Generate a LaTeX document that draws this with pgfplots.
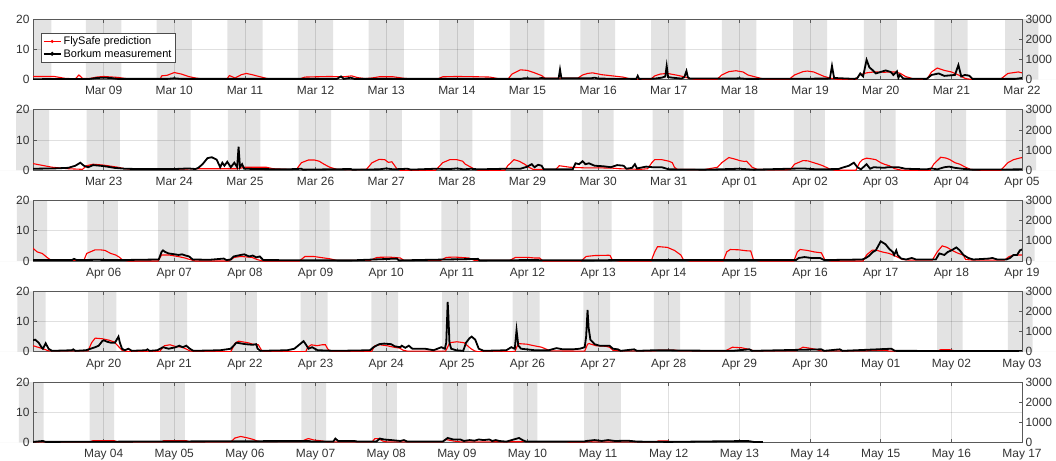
\documentclass[border=0pt]{standalone}
\usepackage{fontspec}
\setmainfont{Liberation Sans}
\usepackage{pgfplots}
\usepackage{pgfplotstable}
\pgfplotsset{compat=1.18}

\definecolor{bandgray}{gray}{0.89}
\definecolor{axgray}{gray}{0.35}
\definecolor{lblgray}{gray}{0.2}

% FlySafe prediction (x = days since Mar 08 00:00, y on left scale)
\pgfplotstableread{
x y
0 1.0
0.3 1.0
0.45 0.4
0.6 0.2
0.65 1.5
0.7 0.4
0.8 0.3
0.9 0.8
1.0 1.0
1.2 0.7
1.35 0.2
1.45 0
1.8 0
1.82 1.2
1.9 1.4
2.0 2.3
2.1 1.8
2.2 1.0
2.3 0.5
2.45 0
2.74 0
2.78 1.3
2.86 0.5
2.95 1.6
3.02 2.0
3.1 1.6
3.2 1.0
3.3 0.4
3.4 0
3.75 0
3.85 0.8
4.0 0.9
4.2 1.0
4.4 0.9
4.51 1.2
4.6 0.6
4.7 0.3
4.8 0.5
4.9 0.9
5.1 0.9
5.25 0.4
5.4 0.1
5.72 0.1
5.8 0.9
6.0 1.0
6.3 0.9
6.47 0.8
6.6 0.2
6.72 0
6.78 1.8
6.9 3.2
7.0 3.0
7.1 2.2
7.2 1.3
7.25 0.4
7.5 0.4
7.71 0.4
7.78 1.5
7.85 2.0
7.92 2.2
8.05 1.6
8.2 1.2
8.35 0.8
8.42 0.4
8.5 0
8.74 0
8.8 1.2
8.88 1.8
8.98 2.0
9.1 1.5
9.2 1.0
9.3 0.3
9.4 0
9.68 0
9.75 1.5
9.85 2.6
9.95 2.9
10.05 2.5
10.12 1.5
10.2 1.0
10.3 0.4
10.4 0
10.7 0
10.78 1.5
10.9 2.6
10.96 2.8
11.05 2.5
11.12 1.8
11.2 1.0
11.3 0.4
11.4 0
11.65 0
11.7 1.5
11.8 2.2
11.91 2.5
12.05 2.4
12.2 2.5
12.28 2.0
12.35 1.0
12.45 0.3
12.55 0
12.65 0
12.72 2.5
12.8 3.8
12.9 3.0
13.0 2.5
13.1 1.5
13.2 0.3
13.3 0
13.69 0
13.8 2.0
13.95 2.5
14.0 2.2
14.27 1.0
14.5 0.5
14.7 0.3
14.76 1.5
14.85 2.0
15.0 1.7
15.2 1.0
15.3 0.5
15.4 0.3
16.0 0.3
16.3 0.5
16.9 0.5
17.0 1.0
17.3 1.0
17.4 0.5
17.6 0.3
17.73 0.3
17.8 2.5
17.9 3.4
17.98 3.4
18.05 3.0
18.12 2.0
18.2 1.0
18.3 0.3
18.6 0.2
18.72 0.3
18.8 2.5
18.9 3.6
18.98 3.5
19.03 2.6
19.08 2.8
19.12 1.5
19.15 0.5
19.2 0
19.7 0
19.74 1.0
19.8 2.5
19.9 3.5
20.0 3.5
20.08 3.0
20.12 2.0
20.16 1.5
20.24 0.5
20.3 0
20.68 0
20.72 1.5
20.81 3.5
20.88 3.0
20.96 2.0
21.02 1.0
21.08 0.3
21.4 0.3
21.45 1.5
21.6 1.0
21.8 0.8
22.0 0.8
22.2 0.7
22.3 0.5
22.6 0.3
22.7 0.5
22.76 2.5
22.8 3.5
22.9 3.5
23.0 3.0
23.05 2.5
23.08 1.0
23.12 0.3
23.5 0.2
23.69 1.0
23.75 2.5
23.85 4.2
23.95 3.6
24.0 3.2
24.07 2.9
24.1 3.0
24.14 2.0
24.18 1.0
24.25 0.3
24.5 0.1
24.72 0.2
24.78 2.0
24.9 3.2
24.97 3.1
25.05 2.5
25.12 2.0
25.18 1.5
25.27 0.5
25.35 0
25.65 0
25.7 2.5
25.74 3.5
25.8 4.0
25.86 3.8
25.93 3.5
26.0 2.5
26.05 2.0
26.12 1.5
26.2 0.5
26.3 0
26.7 0
26.75 2.0
26.85 4.3
26.93 4.0
26.98 3.5
27.05 2.5
27.12 2.0
27.2 1.0
27.27 0.3
27.4 0
27.7 0
27.8 2.5
27.88 3.5
27.96 4.0
28.0 4.2
28.06 3.0
28.13 2.5
28.21 1.0
28.26 0.2
28.72 0.2
28.76 2.5
28.88 3.7
28.95 3.7
29.02 3.5
29.1 2.5
29.17 2.0
29.22 1.3
29.27 0.3
29.35 0
29.77 0
29.82 2.0
29.92 2.0
30.05 1.5
30.15 1.0
30.22 0.5
30.3 0
30.77 0
30.85 1.2
30.94 1.5
31.1 1.2
31.17 0.5
31.25 0
31.77 0
31.85 1.5
31.97 1.5
32.12 1.0
32.21 0.7
32.3 0.2
32.77 0.2
32.87 1.2
33.04 1.3
33.2 1.0
33.25 0.2
33.77 0.2
33.85 1.2
33.97 1.3
34.17 1.0
34.25 0.2
34.75 0.2
34.83 1.2
35.0 1.2
35.1 1.0
35.17 1.0
35.22 0
35.76 0
35.83 1.5
35.95 1.8
36.15 1.9
36.17 1.8
36.2 0.3
36.3 0
36.75 0
36.8 3.0
36.84 4.7
36.88 4.7
36.98 4.5
37.08 3.5
37.14 2.5
37.17 2.0
37.21 0.3
37.3 0
37.77 0
37.82 3.0
37.87 3.8
37.99 3.7
38.09 3.4
38.16 3.3
38.2 0.3
38.3 0
38.77 0
38.82 3.0
38.86 3.8
38.96 3.5
39.06 3.0
39.16 2.7
39.21 0.3
39.3 0
39.75 0
39.8 2.0
39.88 3.6
39.95 3.5
40.02 3.0
40.12 2.5
40.17 2.0
40.22 1.5
40.31 0.5
40.4 0.3
40.73 0.3
40.8 3.0
40.87 5.0
40.94 4.5
41.01 3.5
41.1 2.5
41.17 2.0
41.2 0.5
41.3 0.3
41.75 0.3
41.82 1.5
41.9 2.0
42.0 2.0
42.07 1.5
42.14 1.0
42.22 0.3
42.78 0.3
42.83 3.0
42.88 4.5
42.98 4.3
43.08 3.8
43.15 3.2
43.2 2.0
43.26 0.5
43.35 0
43.79 0
43.86 2.0
43.94 2.3
44.01 1.8
44.11 1.5
44.16 1.0
44.22 0.3
44.3 0
44.8 0
44.86 2.8
44.91 3.5
45.04 3.0
45.11 2.5
45.19 2.3
45.24 0.3
45.3 0
45.86 0
45.89 1.5
45.94 2.3
46.02 2.0
46.09 2.3
46.14 2.3
46.17 1.0
46.2 0.3
46.3 0
46.79 0
46.84 2.0
46.91 2.3
47.01 2.0
47.11 1.5
47.19 1.2
47.24 0.5
47.3 0.2
47.84 0.2
47.9 3.0
48.0 3.3
48.1 3.0
48.15 2.0
48.2 1.0
48.25 0.3
48.3 0
48.82 0
48.87 2.7
48.99 2.5
49.09 2.0
49.2 1.5
49.27 0.8
49.33 0.3
49.81 0.2
49.85 2.5
49.87 2.7
49.97 2.0
50.11 1.8
50.16 1.5
50.21 0.5
50.3 0.3
50.8 0.3
50.85 0.5
51.1 0.5
51.15 0.3
51.8 0.3
51.86 1.0
51.9 1.5
52.04 1.3
52.09 1.0
52.14 0.8
52.2 0.3
52.8 0.3
52.9 1.5
52.99 1.2
53.08 0.8
53.15 0.3
53.8 0.3
53.85 0.5
54.07 0.5
54.12 0.2
54.8 0.2
54.85 0.7
54.97 0.7
55.05 0.3
55.8 0.3
56.0 0.2
56.8 0.2
56.85 0.6
57.15 0.6
57.2 0.2
57.82 0.2
57.85 0.6
58.17 0.6
58.22 0.2
58.8 0.2
58.86 1.5
58.94 2.0
59.04 1.5
59.12 1.0
59.17 0.5
59.22 0.3
59.8 0.3
59.86 1.0
59.9 1.3
59.98 0.8
60.1 0.5
60.15 0.2
60.8 0.2
60.84 1.3
60.89 1.3
60.95 0.5
61.0 0.2
61.8 0.2
61.84 1.0
61.95 0.5
62.05 0.2
63.36 0.3
63.55 0.3
63.6 0.1
63.85 0.2
63.88 0.5
63.92 0.2
64.82 0.2
64.85 0.5
64.99 0.5
65.02 0
}\redtab

% Borkum measurement (same scale; right axis = left x 150)
\pgfplotstableread{
x y
0 0.1
0.8 0.2
0.9 0.5
1.0 0.6
1.1 0.5
1.2 0.2
1.9 0.2
2.0 0.4
2.1 0.2
4.3 0.2
4.36 1.0
4.4 0.2
4.5 0.6
4.55 0.2
6.9 0.2
6.95 0.4
7.15 0.3
7.2 0.5
7.25 0.3
7.44 0.3
7.46 3.3
7.48 0.4
7.9 0.4
7.95 0.6
8.0 0.3
8.54 0.2
8.56 1.2
8.58 0.2
8.8 0.3
8.9 0.6
8.95 1.0
8.97 4.5
8.99 0.8
9.05 0.6
9.18 0.3
9.22 0.8
9.25 2.8
9.27 0.7
9.3 0.3
9.9 0.3
10.0 0.4
10.1 0.2
11.28 0.3
11.31 4.5
11.34 0.5
11.63 0.2
11.67 0.5
11.71 2.0
11.75 1.0
11.8 6.5
11.84 4.0
11.89 3.0
11.93 2.0
12.0 2.5
12.07 3.0
12.14 2.5
12.18 1.5
12.23 2.7
12.25 0.5
12.27 1.5
12.32 0.3
12.65 0.2
12.72 1.5
12.82 2.0
12.9 1.2
13.05 1.5
13.1 4.8
13.14 1.0
13.19 1.5
13.25 1.3
13.3 0.2
13.9 0.2
14.0 0.5
14.3 0.6
14.5 0.8
14.6 1.5
14.67 2.5
14.72 1.5
14.78 1.0
14.85 1.7
14.95 1.5
15.05 1.2
15.15 0.8
15.3 0.5
15.5 0.4
16.0 0.4
16.2 0.6
16.3 0.4
16.34 0.8
16.4 2.0
16.47 4.0
16.53 4.3
16.6 3.5
16.65 1.0
16.68 2.5
16.71 1.5
16.75 2.8
16.8 1.0
16.85 2.5
16.89 1.0
16.91 7.8
16.93 1.0
16.96 2.0
16.99 0.5
17.2 0.4
17.6 0.3
17.8 0.5
17.82 0.2
18.5 0.4
18.52 0.2
18.9 0.3
19.0 0.6
19.1 0.3
19.3 0.5
19.35 0.2
19.7 0.5
19.9 0.4
20.0 0.6
20.1 0.3
20.2 0.5
20.3 0.3
20.7 0.5
20.9 0.5
21.0 1.2
21.02 1.5
21.06 2.0
21.1 1.0
21.15 1.8
21.2 1.5
21.23 0.3
21.64 0.3
21.68 2.3
21.73 2.0
21.78 3.0
21.82 2.0
21.87 2.3
21.95 1.5
22.08 1.3
22.18 1.0
22.27 1.7
22.36 1.5
22.4 0.5
22.48 0.8
22.52 2.0
22.55 0.6
22.68 1.2
22.77 1.0
22.9 1.0
23.0 0.3
23.5 0.2
23.7 0.3
24.0 0.5
24.2 0.2
24.7 0.5
24.9 0.6
25.1 0.3
25.4 0.4
25.45 0.8
25.55 1.5
25.62 2.5
25.67 1.0
25.72 0.3
25.8 2.0
25.85 0.5
25.9 1.0
26.05 0.8
26.1 1.0
26.25 1.0
26.35 0.5
26.65 0.3
26.72 0.6
26.8 0.3
26.9 1.0
26.97 1.2
27.05 0.8
27.15 0.5
27.3 0.2
28.0 0.3
28.55 0.3
28.58 0.7
28.62 0.3
28.9 0.4
29.2 0.3
29.78 0.5
29.82 3.0
29.84 3.5
29.87 3.0
29.92 2.5
30.01 2.2
30.06 2.0
30.11 2.2
30.16 1.8
30.21 1.5
30.26 0.5
30.5 0.4
30.7 0.8
30.74 0.3
30.8 0.5
30.84 1.5
30.94 2.0
30.99 2.2
31.06 1.5
31.11 1.8
31.16 1.2
31.21 1.5
31.26 0.3
32.5 0.2
33.15 0.8
33.18 0.2
34.3 0.7
34.32 0.2
35.0 0.3
35.9 0.2
36.2 0.3
37.3 0.3
38.8 0.3
38.84 1.0
38.92 1.3
39.02 1.0
39.14 1.0
39.2 0.3
39.74 0.5
39.79 1.0
39.84 1.8
39.89 3.0
39.93 3.5
40.0 6.5
40.07 5.5
40.12 4.0
40.17 3.0
40.19 2.0
40.22 3.5
40.24 2.0
40.29 0.8
40.36 0.5
40.44 1.0
40.5 0.5
40.78 0.5
40.83 2.5
40.9 2.0
40.95 3.0
41.0 3.5
41.05 4.2
41.07 4.5
41.12 3.5
41.17 2.0
41.24 1.0
41.31 0.5
41.53 0.8
41.58 1.0
41.65 0.5
41.78 0.5
41.83 1.0
41.88 2.0
41.93 2.0
41.97 3.5
42.0 3.8
42.03 4.0
42.08 3.0
42.12 1.5
42.14 1.0
42.18 2.8
42.22 1.0
42.27 0.3
42.55 0.5
42.57 0.8
42.6 0.3
42.75 0.5
42.88 1.5
42.93 2.0
42.98 3.5
43.0 3.8
43.05 3.3
43.1 3.0
43.16 3.0
43.21 5.0
43.23 3.0
43.26 1.0
43.3 0.5
43.35 1.0
43.4 0.3
43.6 0.5
43.62 0.8
43.65 0.3
43.76 0.5
43.84 1.5
43.92 1.0
44.02 1.5
44.07 2.0
44.12 1.5
44.17 2.0
44.22 1.0
44.27 0.3
44.65 0.5
44.8 1.0
44.86 2.5
44.88 3.0
45.01 2.5
45.11 2.3
45.16 2.5
45.18 1.0
45.22 0.3
45.6 0.5
45.7 1.0
45.83 3.5
45.86 2.5
45.9 1.0
45.95 1.5
46.03 0.5
46.3 0.3
46.77 0.5
46.82 1.5
46.9 2.5
46.97 2.7
47.07 2.5
47.12 1.8
47.2 1.5
47.22 2.0
47.27 1.3
47.32 2.0
47.37 1.0
47.55 1.0
47.67 0.5
47.78 1.5
47.83 1.0
47.85 3.0
47.87 16.5
47.88 12.0
47.895 3.0
47.92 1.0
47.99 0.5
48.09 0.3
48.13 3.0
48.18 4.5
48.21 5.0
48.26 4.0
48.31 1.0
48.38 0.3
48.7 0.5
48.77 1.5
48.82 1.0
48.845 7.2
48.87 2.0
48.91 1.0
49.1 0.5
49.3 0.5
49.41 1.2
49.5 0.8
49.64 0.8
49.74 1.0
49.81 1.5
49.83 5.0
49.85 13.8
49.865 8.0
49.89 4.0
49.95 2.5
50.02 2.0
50.11 2.0
50.16 2.0
50.21 1.0
50.28 0.8
50.32 0.3
50.51 0.8
50.55 0.3
50.8 0.5
50.95 0.5
51.2 0.4
51.9 0.3
52.14 0.8
52.18 0.3
53.16 0.8
53.2 0.3
53.42 0.8
53.46 0.3
54.15 1.0
54.2 0.3
56.0 0.2
56.14 0.5
56.18 0.2
59.9 0.5
59.95 0.3
60.25 0.3
60.28 1.3
60.32 0.5
60.4 0.5
60.55 0.5
60.6 0.3
60.86 0.3
60.91 1.3
60.97 1.0
61.07 0.8
61.2 0.5
61.25 0.8
61.3 0.3
61.8 0.3
61.87 1.5
61.95 1.0
62.05 1.0
62.1 0.5
62.18 0.8
62.25 0.6
62.31 1.0
62.38 0.8
62.46 1.0
62.5 0.5
62.55 0.8
62.6 0.5
62.7 0.3
62.88 1.5
62.93 0.8
62.98 0.3
63.8 0.3
63.83 0.5
63.95 0.8
64.05 0.5
64.14 0.8
64.24 0.5
64.42 0.6
64.55 0.3
65.0 0.2
66.12 0.5
66.2 0.2
66.33 0.2
}\blacktab

\pgfplotsset{
  panel/.style={
    scale only axis, width=989bp, height=60.5bp,
    anchor=south west, set layers,
    ymin=0, ymax=20,
    axis line style={axgray, line width=0.7bp},
    every tick/.style={axgray, line width=0.7bp},
    major tick length=3.5bp, tick align=inside,
    ytick={0,10,20}, yticklabels={0,10,20}, ytick pos=left,
    xmajorgrids, ymajorgrids,
    major grid style={black, opacity=0.12, line width=0.6bp},
    ticklabel style={font=\fontsize{12}{12}\selectfont, text=lblgray},
    xticklabel style={yshift=-3.5bp},
    legend style={at={(axis description cs:0.0081,0.77)}, anchor=north west,
      draw=black!70, line width=0.6bp, fill=white, font=\fontsize{11}{12}\selectfont,
      inner sep=1.5bp, row sep=-1bp, cells={anchor=west}},
    legend image post style={mark=*, mark size=0.9bp},
  },
  rpanel/.style={
    scale only axis, width=989bp, height=60.5bp,
    anchor=south west,
    xmin=0, xmax=1, ymin=0, ymax=3000,
    axis x line=none, axis y line*=right,
    axis line style={axgray, line width=0.7bp},
    every tick/.style={axgray, line width=0.7bp},
    major tick length=3.5bp, tick align=inside,
    ytick={0,1000,2000,3000}, yticklabels={0,1000,2000,3000},
    ticklabel style={font=\fontsize{12}{12}\selectfont, text=lblgray},
  },
}

\newcommand\bands{%
  \addplot[fill=bandgray, draw=none, on layer=axis background, forget plot] coordinates {
  (0,0)(0,20)(0.26,20)(0.26,0)
  (0.75,0)(0.75,20)(1.25,20)(1.25,0)
  (1.75,0)(1.75,20)(2.25,20)(2.25,0)
  (2.75,0)(2.75,20)(3.25,20)(3.25,0)
  (3.75,0)(3.75,20)(4.25,20)(4.25,0)
  (4.75,0)(4.75,20)(5.25,20)(5.25,0)
  (5.75,0)(5.75,20)(6.24,20)(6.24,0)
  (6.75,0)(6.75,20)(7.24,20)(7.24,0)
  (7.75,0)(7.75,20)(8.24,20)(8.24,0)
  (8.75,0)(8.75,20)(9.24,20)(9.24,0)
  (9.75,0)(9.75,20)(10.24,20)(10.24,0)
  (10.76,0)(10.76,20)(11.24,20)(11.24,0)
  (11.76,0)(11.76,20)(12.23,20)(12.23,0)
  (12.76,0)(12.76,20)(13.23,20)(13.23,0)
  (13.76,0)(13.76,20)(14.23,20)(14.23,0)
  (14.76,0)(14.76,20)(15.23,20)(15.23,0)
  (15.76,0)(15.76,20)(16.23,20)(16.23,0)
  (16.76,0)(16.76,20)(17.22,20)(17.22,0)
  (17.76,0)(17.76,20)(18.22,20)(18.22,0)
  (18.76,0)(18.76,20)(19.22,20)(19.22,0)
  (19.76,0)(19.76,20)(20.22,20)(20.22,0)
  (20.76,0)(20.76,20)(21.22,20)(21.22,0)
  (21.77,0)(21.77,20)(22.22,20)(22.22,0)
  (22.77,0)(22.77,20)(23.21,20)(23.21,0)
  (23.77,0)(23.77,20)(24.21,20)(24.21,0)
  (24.77,0)(24.77,20)(25.21,20)(25.21,0)
  (25.77,0)(25.77,20)(26.21,20)(26.21,0)
  (26.77,0)(26.77,20)(27.21,20)(27.21,0)
  (27.77,0)(27.77,20)(28.2,20)(28.2,0)
  (28.77,0)(28.77,20)(29.2,20)(29.2,0)
  (29.77,0)(29.77,20)(30.2,20)(30.2,0)
  (30.77,0)(30.77,20)(31.2,20)(31.2,0)
  (31.77,0)(31.77,20)(32.2,20)(32.2,0)
  (32.78,0)(32.78,20)(33.2,20)(33.2,0)
  (33.78,0)(33.78,20)(34.19,20)(34.19,0)
  (34.78,0)(34.78,20)(35.19,20)(35.19,0)
  (35.78,0)(35.78,20)(36.19,20)(36.19,0)
  (36.78,0)(36.78,20)(37.19,20)(37.19,0)
  (37.78,0)(37.78,20)(38.19,20)(38.19,0)
  (38.78,0)(38.78,20)(39.19,20)(39.19,0)
  (39.78,0)(39.78,20)(40.18,20)(40.18,0)
  (40.78,0)(40.78,20)(41.18,20)(41.18,0)
  (41.78,0)(41.78,20)(42.18,20)(42.18,0)
  (42.78,0)(42.78,20)(43.18,20)(43.18,0)
  (43.79,0)(43.79,20)(44.18,20)(44.18,0)
  (44.79,0)(44.79,20)(45.17,20)(45.17,0)
  (45.79,0)(45.79,20)(46.17,20)(46.17,0)
  (46.79,0)(46.79,20)(47.17,20)(47.17,0)
  (47.79,0)(47.79,20)(48.17,20)(48.17,0)
  (48.79,0)(48.79,20)(49.17,20)(49.17,0)
  (49.79,0)(49.79,20)(50.17,20)(50.17,0)
  (50.79,0)(50.79,20)(51.16,20)(51.16,0)
  (51.79,0)(51.79,20)(52.16,20)(52.16,0)
  (52.79,0)(52.79,20)(53.16,20)(53.16,0)
  (53.79,0)(53.79,20)(54.16,20)(54.16,0)
  (54.8,0)(54.8,20)(55.16,20)(55.16,0)
  (55.8,0)(55.8,20)(56.15,20)(56.15,0)
  (56.8,0)(56.8,20)(57.15,20)(57.15,0)
  (57.8,0)(57.8,20)(58.15,20)(58.15,0)
  (58.8,0)(58.8,20)(59.15,20)(59.15,0)
  (59.8,0)(59.8,20)(60.15,20)(60.15,0)
  (60.8,0)(60.8,20)(61.15,20)(61.15,0)
  (61.8,0)(61.8,20)(62.14,20)(62.14,0)
  (62.8,0)(62.8,20)(63.14,20)(63.14,0)
  (63.8,0)(63.8,20)(64.32,20)(64.32,0)
  };
}

% #1 bottom (bp from top), #2 xmin, #3 xmax, #4 xticks, #5 labels, #6 extra content
\newcommand\panel[6]{%
  \begin{axis}[panel, at={(33bp,-#1bp)}, xmin=#2, xmax=#3, xtick={#4}, xticklabels={#5}]
    \bands
    \addplot[red, line width=1.1bp] table {\redtab};
    \addplot[black, line width=1.8bp] table {\blacktab};
    #6
  \end{axis}
  \begin{axis}[rpanel, at={(33bp,-#1bp)}]
  \end{axis}
}

\begin{document}
\begin{tikzpicture}
\panel{79.5}{0}{14}{1,2,...,14}{Mar 09,Mar 10,Mar 11,Mar 12,Mar 13,Mar 14,Mar 15,Mar 16,Mar 17,Mar 18,Mar 19,Mar 20,Mar 21,Mar 22}{\legend{FlySafe prediction,Borkum measurement}}
\panel{170.25}{14}{28}{15,16,...,28}{Mar 23,Mar 24,Mar 25,Mar 26,Mar 27,Mar 28,Mar 29,Mar 30,Mar 31,Apr 01,Apr 02,Apr 03,Apr 04,Apr 05}{}
\panel{261}{28}{42}{29,30,...,42}{Apr 06,Apr 07,Apr 08,Apr 09,Apr 10,Apr 11,Apr 12,Apr 13,Apr 14,Apr 15,Apr 16,Apr 17,Apr 18,Apr 19}{}
\panel{351.75}{42}{56}{43,44,...,56}{Apr 20,Apr 21,Apr 22,Apr 23,Apr 24,Apr 25,Apr 26,Apr 27,Apr 28,Apr 29,Apr 30,May 01,May 02,May 03}{}
\panel{442.5}{56}{70}{57,58,...,70}{May 04,May 05,May 06,May 07,May 08,May 09,May 10,May 11,May 12,May 13,May 14,May 15,May 16,May 17}{}
\pgfresetboundingbox
\useasboundingbox (0,0) rectangle (1056bp,-461bp);
\end{tikzpicture}
\end{document}
